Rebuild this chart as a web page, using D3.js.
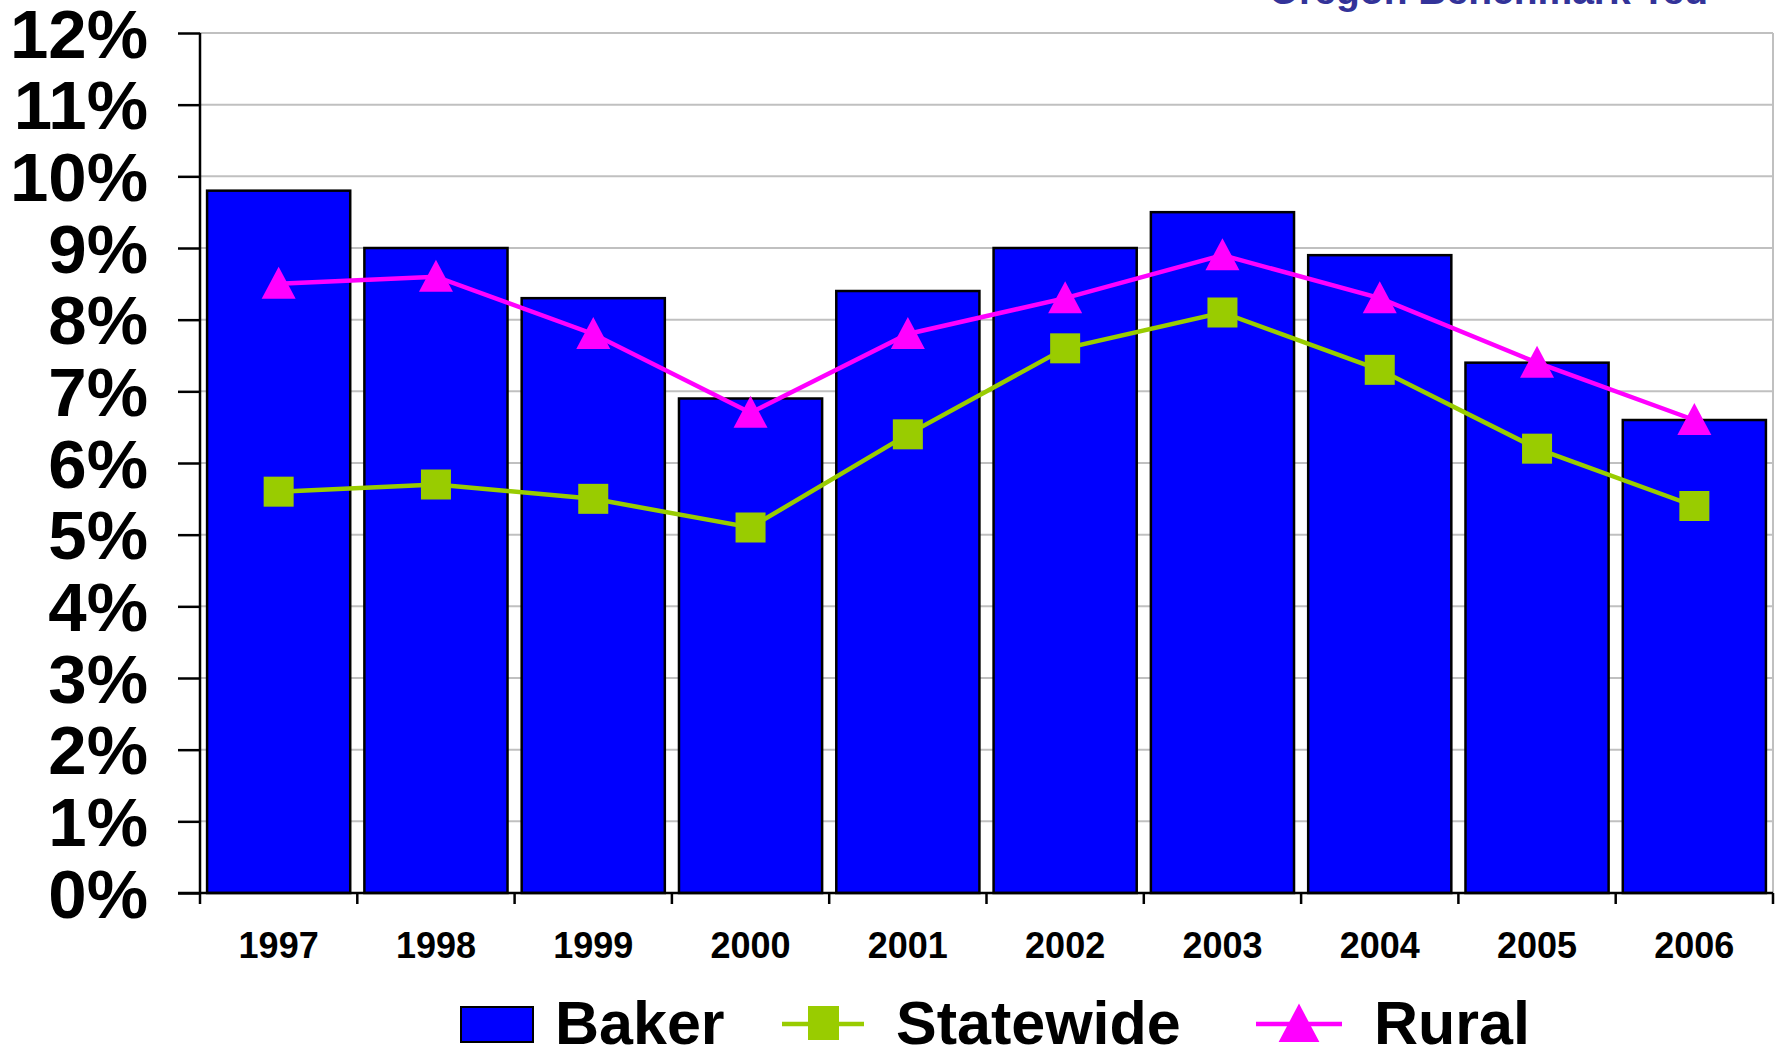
<!DOCTYPE html>
<html>
<head>
<meta charset="utf-8">
<script src="https://cdn.jsdelivr.net/npm/d3@7"></script>
<style>
  body { margin: 0; background: #fff; }
  svg { display: block; font-family: "Liberation Sans", Arial, sans-serif; }
</style>
</head>
<body>
<script>
"use strict";
(function () {

// data
const years = ["1997", "1998", "1999", "2000", "2001", "2002", "2003", "2004", "2005", "2006"]
const baker = [9.8, 9.0, 8.3, 6.9, 8.4, 9.0, 9.5, 8.9, 7.4, 6.6]
const statewide = [5.6, 5.7, 5.5, 5.1, 6.4, 7.6, 8.1, 7.3, 6.2, 5.4]
const rural = [8.5, 8.6, 7.8, 6.7, 7.8, 8.3, 8.9, 8.3, 7.4, 6.6]
const yTicks = [0, 1, 2, 3, 4, 5, 6, 7, 8, 9, 10, 11, 12]

const m = { width: 1783, height: 1049, left: 200, right: 1773, top: 33, bottom: 893 }

const svg = d3.select("body").append("svg")
    .attr("width", m.width)
    .attr("height", m.height)

const x = d3.scaleBand()
    .domain(years)
    .range([m.left, m.right])
    .paddingInner(0.09)
    .paddingOuter(0.045)

const y = d3.scaleLinear()
    .domain([0, 12])
    .range([m.bottom, m.top])

const step = (m.right - m.left) / years.length

// title remnant, cut off at the top
svg.append("text")
    .attr("x", 1708)
    .attr("y", 4)
    .attr("text-anchor", "end")
    .attr("font-size", 39)
    .attr("font-weight", "bold")
    .attr("fill", "#333399")
    .text("Oregon Benchmark Ted")

// gridlines
svg.append("g")
    .selectAll("line")
    .data(yTicks.slice(1))
    .enter()
    .append("line")
    .attr("x1", m.left)
    .attr("x2", m.right)
    .attr("y1", d => y(d))
    .attr("y2", d => y(d))
    .attr("stroke", "#c0c0c0")
    .attr("stroke-width", 2)

// right border of plot area
svg.append("line")
    .attr("x1", m.right).attr("x2", m.right)
    .attr("y1", m.top).attr("y2", m.bottom)
    .attr("stroke", "#c0c0c0")
    .attr("stroke-width", 2)

// bars
svg.append("g")
    .selectAll("rect")
    .data(baker)
    .enter()
    .append("rect")
    .attr("x", (d, i) => x(years[i]))
    .attr("width", x.bandwidth())
    .attr("y", d => y(d))
    .attr("height", d => y(0) - y(d))
    .attr("fill", "#0000ff")
    .attr("stroke", "#000")
    .attr("stroke-width", 2.5)

// y axis
const yAxis = svg.append("g")
    .attr("transform", `translate(${m.left},0)`)
    .call(d3.axisLeft(y).tickValues(yTicks).tickSize(22).tickPadding(30).tickFormat(d => d + "%"))
yAxis.select(".domain").attr("stroke-width", 2.5).attr("d", `M0,${m.top}V${m.bottom}`)
yAxis.selectAll(".tick line").attr("stroke-width", 2.5)
yAxis.selectAll(".tick text")
    .attr("font-size", 69)
    .attr("font-weight", "bold")
    .attr("font-family", "Liberation Sans, Arial, sans-serif")
    .attr("fill", "#000")
    .attr("dy", "0.35em")

// x axis
const xAxis = svg.append("g")
    .attr("transform", `translate(0,${m.bottom})`)
    .call(d3.axisBottom(x).tickSize(0).tickPadding(0))
xAxis.select(".domain").attr("stroke-width", 2.5).attr("d", `M${m.left - 22},0H${m.right}`)
xAxis.selectAll(".tick text")
    .attr("y", 65)
    .attr("dy", 0)
    .attr("font-size", 36)
    .attr("font-weight", "bold")
    .attr("font-family", "Liberation Sans, Arial, sans-serif")
    .attr("fill", "#000")

// x category boundary ticks
svg.append("g")
    .selectAll("line")
    .data(d3.range(years.length + 1))
    .enter()
    .append("line")
    .attr("x1", d => m.left + d * step)
    .attr("x2", d => m.left + d * step)
    .attr("y1", m.bottom)
    .attr("y2", m.bottom + 11)
    .attr("stroke", "#000")
    .attr("stroke-width", 2.5)

const cx = (d, i) => x(years[i]) + x.bandwidth() / 2

// statewide line + squares
const line = d3.line().x(cx).y(d => y(d))
svg.append("path")
    .datum(statewide)
    .attr("d", line)
    .attr("fill", "none")
    .attr("stroke", "#99cc00")
    .attr("stroke-width", 4.5)
svg.append("g")
    .selectAll("rect")
    .data(statewide)
    .enter()
    .append("rect")
    .attr("x", (d, i) => cx(d, i) - 15)
    .attr("y", d => y(d) - 15)
    .attr("width", 30)
    .attr("height", 30)
    .attr("fill", "#99cc00")

// rural line + triangles
svg.append("path")
    .datum(rural)
    .attr("d", line)
    .attr("fill", "none")
    .attr("stroke", "#ff00ff")
    .attr("stroke-width", 4.5)
const tri = "M0,-17L17,15L-17,15Z"
svg.append("g")
    .selectAll("path")
    .data(rural)
    .enter()
    .append("path")
    .attr("transform", (d, i) => `translate(${cx(d, i)},${y(d)})`)
    .attr("d", tri)
    .attr("fill", "#ff00ff")

// legend
const lg = svg.append("g").attr("font-size", 61).attr("font-weight", "bold").attr("fill", "#000")
lg.append("rect")
    .attr("x", 461).attr("y", 1007).attr("width", 72).attr("height", 35)
    .attr("fill", "#0000ff").attr("stroke", "#000").attr("stroke-width", 2)
lg.append("text").attr("x", 555).attr("y", 1044).text("Baker")

lg.append("line")
    .attr("x1", 782).attr("x2", 864).attr("y1", 1024).attr("y2", 1024)
    .attr("stroke", "#99cc00").attr("stroke-width", 4.5)
lg.append("rect")
    .attr("x", 808).attr("y", 1006).attr("width", 31).attr("height", 34)
    .attr("fill", "#99cc00")
lg.append("text").attr("x", 896).attr("y", 1044).text("Statewide")

lg.append("line")
    .attr("x1", 1256).attr("x2", 1342).attr("y1", 1024).attr("y2", 1024)
    .attr("stroke", "#ff00ff").attr("stroke-width", 4.5)
lg.append("path")
    .attr("transform", "translate(1299,1024) scale(1.2)")
    .attr("d", tri)
    .attr("fill", "#ff00ff")
lg.append("text").attr("x", 1374).attr("y", 1044).text("Rural")

})();
</script>
</body>
</html>
